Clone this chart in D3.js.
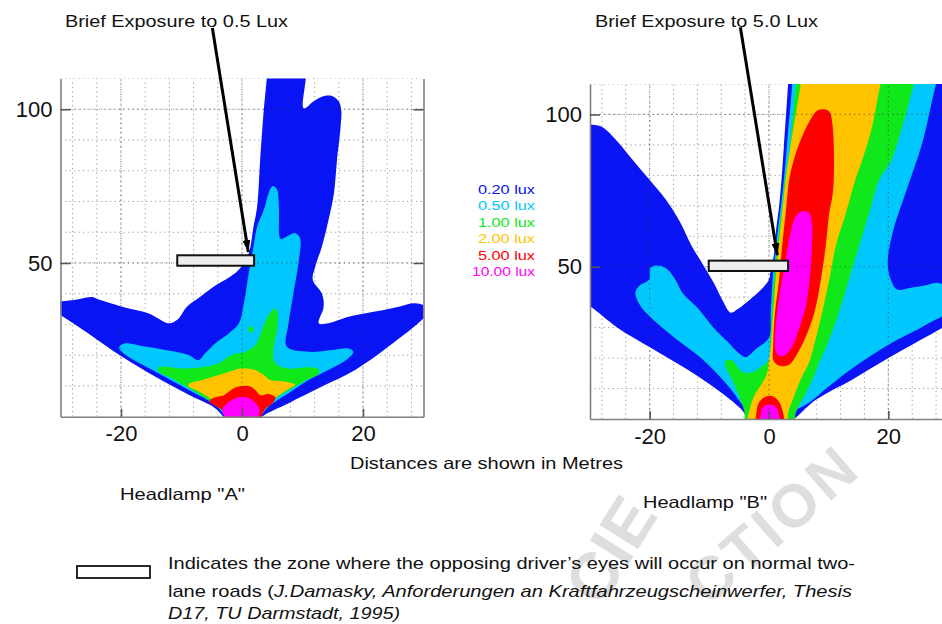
<!DOCTYPE html>
<html><head><meta charset="utf-8">
<script src="https://cdn.jsdelivr.net/npm/d3@7"></script>
<style>body{margin:0;background:#fff}svg{display:block}</style>
</head><body><svg id="c" width="942" height="624"></svg>
<script>
// ---------- data ----------
const luxLevels = ["0.20 lux","0.50 lux","1.00 lux","2.00 lux","5.00 lux","10.00 lux"];
const luxColors = ["#0a14f5","#00c8ff","#11e81a","#ffc300","#ff0000","#ff00ff"];
const xTickValues = [-20, 0, 20];
const yTickValues = [50, 100];
const titles = ["Brief Exposure to 0.5 Lux", "Brief Exposure to 5.0 Lux"];
const lampNames = ['Headlamp "A"', 'Headlamp "B"'];
const axisLabel = "Distances are shown in Metres";
const watermark = ["CIE", "CTION"];
const noteLines = [
  [["Indicates the zone where the opposing driver\u2019s eyes will occur on normal two-", false]],
  [["lane roads (", false], ["J.Damasky, Anforderungen an Kraftfahrzeugscheinwerfer, Thesis", true]],
  [["D17, TU Darmstadt, 1995)", true]]
];

// Headlamp A isolux regions (metres: [lateral, distance]); each level = list of rings
const lampA_020 = [[[-1.5,-3],[-4.4,2.7],[-8.8,7.1],[-14.3,13],[-19.8,19.5],[-25.4,27.1],[-30,33.1],[-32,35.5],[-32,37.6],[-30,37.5],[-27,38.2],[-24.8,38.9],[-23.8,38.2],[-19.8,35.8],[-15.4,33.6],[-12.1,30.4],[-10.7,31.5],[-9.1,35.8],[-6.9,39],[-4.7,42.3],[-1.9,45.6],[-0.3,48.3],[1.1,53.1],[1.9,61.8],[2.5,68.3],[3.0,83.5],[3.6,99.8],[4.1,110],[4.3,116],[10.2,116],[10.2,100.3],[11.8,102.5],[13.2,104.1],[14.9,104.3],[16,102.5],[16.4,99.8],[16.3,94.4],[15.7,83.5],[15.2,72.7],[14.3,64],[13.2,55.3],[12.1,48.8],[11.7,44.5],[13.2,40.1],[13.5,35.8],[12.7,30.4],[14.3,30.4],[17.6,32.5],[22,34.2],[25.9,35.8],[28.6,36.9],[30.6,35.6],[30.6,33.6],[24.2,22.8],[18.7,15.2],[13.2,9.8],[7.7,4.4],[3.3,0],[2,-3]]];
const lampA_050 = [[[-1.5,-2],[-4.4,3.8],[-8.8,8.7],[-14.3,14.6],[-19.3,20.2],[-20.3,22.5],[-19.5,23.8],[-16,22.8],[-12.7,21.7],[-8.8,20.1],[-7.2,18.4],[-6.1,20.6],[-4.4,23.9],[-2.2,27.1],[-0.5,30.4],[0.2,35.8],[0.6,40.1],[1.1,46.6],[1.9,55.3],[2.5,61.8],[3.6,67.2],[4.4,72.7],[5.1,75],[5.8,73.8],[6.1,68.3],[6.4,57.8],[7.4,58.6],[8.8,59.7],[9.6,58],[9.4,51],[8.5,40.1],[7.7,30.4],[7.4,22.8],[11,21.1],[14.9,21.7],[17.6,22.2],[18.4,21.1],[17.6,19],[13.2,14.1],[11,11.9],[7.7,7.6],[4.4,3.3],[2,-2]]];
const lampA_100 = [[[-13.8,16.1],[-9.9,15.7],[-6.6,16.1],[-3.9,17.4],[-1.7,20.1],[0.5,21.1],[2.2,23.3],[3.3,28.2],[4.4,33.1],[5.5,35.3],[5.9,33.6],[5.8,28.2],[5.2,21.7],[5.5,17.4],[7.7,15.7],[11,16.1],[12.7,15.4],[12.6,13.8],[11,12.3],[8.8,9.8],[6.6,7.3],[4.4,4.2],[2.8,1.3],[0,-1.5],[-2.8,1.2],[-5,4.6],[-7.7,8.0],[-11.6,12.5],[-13.8,14.8]],
                   [[1.0,28.6],[1.4,29.4],[1.9,28.6],[1.8,27.6],[1.3,27.4]]];
const lampA_200 = [[[-8.8,10.6],[-6.6,11.9],[-4.4,13.2],[-2.2,14.6],[-0.3,15.7],[0.8,15.7],[2.2,15.2],[3.6,13.6],[4.7,11.9],[7.2,11.4],[8.8,10.4],[8.0,9.4],[6.6,7.6],[4.4,4.6],[3.0,2.3],[2.2,-1],[-2.2,-1],[-3.3,2.7],[-5,5.6],[-7.2,8.3],[-8.8,9.8]]];
const lampA_500 = [[[-5.2,5.6],[-4.1,6.5],[-3.0,7.0],[-2.2,8.1],[-1.1,9.5],[1.1,10.0],[2.2,8.7],[3.0,7.0],[4.4,7.4],[5.5,6.3],[5.0,4.3],[3.9,2.7],[2.6,-1],[-2.3,-1],[-3.3,2.2],[-4.7,3.8],[-5.4,4.9]]];
const lampA_1000 = [[[-3.3,2.0],[-2.6,4.1],[-1.7,5.4],[-0.6,6.3],[0.8,6.3],[1.8,5.2],[2.5,3.8],[2.9,2.0],[2.4,-1],[-2.2,-1]]];

// Headlamp B isolux regions
const lampB_020 = [[[-2.3,-2],[-4.8,3.5],[-7.2,7.5],[-10,11.5],[-14.3,17],[-19.9,23.5],[-25.4,30],[-30,37],[-32,39],[-32,97],[-30,96.7],[-28.2,96.1],[-25.7,91.8],[-22.9,85.2],[-20.1,78.7],[-17.3,72.1],[-15,65],[-13,57],[-11,50.5],[-9.2,44.5],[-7.8,39],[-6.4,34.9],[-5.3,36],[-4.2,37.6],[-2.2,40.9],[-0.8,43.6],[0,45.8],[0.3,49.1],[0.8,53.5],[1.2,62.2],[1.7,69.9],[2.1,78.7],[2.5,89.6],[3.2,110],[3.4,116],[32,116],[32,33],[30,31],[25,25.5],[20,20],[14,13],[8,6.5],[2.5,-2]]];
const lampB_050 = [[[-2.8,-2],[-3.5,2],[-4.8,5.5],[-6.5,10],[-9,15.5],[-12,21],[-15.4,26],[-19.9,33.5],[-21.5,37],[-22.4,41.4],[-21.8,43.6],[-20.1,45.8],[-19.9,49.6],[-19,50.4],[-17.3,49.6],[-15.7,45.8],[-14.5,41.4],[-12,36.5],[-9.3,30],[-7,25.5],[-5,21.5],[-3.9,20.3],[-2,23.3],[-0.6,25.3],[0.1,27.2],[0.3,35],[0.6,45.8],[1.0,53.5],[1.5,62.2],[2.0,69.9],[2.5,78.7],[3.0,89.6],[3.9,110],[4.1,116],[29,116],[28,110],[25.7,90.7],[22.9,74.3],[20.7,61.1],[19.9,51.3],[20.4,45.8],[21.5,42.5],[23.8,43.1],[26.5,44],[28.2,44.7],[30,43.5],[32,42],[32,35],[28.9,33.5],[25,29.5],[20.1,24.5],[14.5,17.4],[10.1,10.8],[6.7,5.3],[3.5,1.5],[3,-2]]];
const lampB_100 = [[[-3.6,-2],[-4.2,3.1],[-5,7.5],[-6.2,13],[-7.3,17.4],[-7.3,19],[-6.2,19.2],[-4.5,15.5],[-2.8,15.3],[-1.1,17.4],[0,19.5],[0.2,25],[0.4,32],[0.8,45.8],[1.2,53.5],[1.7,62.2],[2.2,69.9],[2.65,78.7],[3.5,89.6],[4.5,110],[4.7,116],[25.3,116],[24.3,110],[22.5,97],[20.5,85],[18.5,78.7],[16.8,67.7],[15.1,56.8],[13.4,45.8],[11.7,34.9],[10.1,26.1],[8.4,18.5],[7.3,13],[5.9,7.5],[4.5,2.1],[4,-2]]];
const lampB_200 = [[[-3.4,-2],[-3.1,4.2],[-2.2,8.6],[-1.1,11.9],[-0.3,15.2],[0,19.5],[0.3,23.9],[0.7,34.9],[1.1,45.8],[1.6,56.8],[2.2,67.7],[2.8,78.7],[3.6,89.6],[5.3,110],[5.6,116],[19.6,116],[18.7,110],[17.3,96.1],[15.8,86],[14.5,78.7],[12.9,67.7],[11.2,56.8],[10.1,45.8],[8.9,34.9],[7.8,26.1],[6.7,18.5],[5.3,13],[4.2,7.5],[3.2,2.1],[2.9,-2]]];
const lampB_500 = [[[8.9,101.7],[10.1,101],[10.6,97.3],[10.9,85.2],[10.7,74.3],[10.1,67.7],[9.5,56.8],[8.7,45.8],[7.6,34.9],[6.2,27.2],[4.8,21.7],[3.4,17.9],[2,17.4],[0.8,19],[0.7,23.9],[1.0,34.9],[1.7,45.8],[2.2,56.8],[2.8,67.7],[3.4,78.7],[4.3,86],[5.6,93],[7.0,98.5],[7.9,101]],
                   [[-2.1,-2],[-2.1,2],[-1.7,5.3],[-0.6,7.3],[0.6,7.5],[1.6,5.9],[2.2,3.1],[2.4,-2]]];
const lampB_1000 = [[[5.6,68.3],[6.7,67.7],[7.2,64.4],[7.2,56.8],[6.8,45.8],[6.2,37.1],[5,29.4],[3.9,23.9],[2.5,20.7],[1.4,21.2],[1.0,23.9],[1.2,32.7],[2.0,43.6],[2.8,52.4],[3.6,61.2],[4.5,66.6]],
                    [[-1.5,-2],[-1.4,1.5],[-1.1,3.7],[0,4.8],[1.1,4],[1.6,2.1],[1.6,-2]]];

// eye zone rectangles [[x0,y0],[x1,y1]] and arrows [[start],[tip]] in metres
const eyeZoneA = [[-10.7,49.1],[2.0,52.5]];
const eyeZoneB = [[-10.1,48.6],[3.2,52.0]];
const arrowA = [[-4.9,126.4],[1.04,53.6]];
const arrowB = [[-4.8,128.6],[1.4,53.8]];

// ---------- drawing ----------
const svg = d3.select("#c");
const FONT = "'Liberation Sans', Arial, sans-serif";
const NARROW = "'Liberation Sans Narrow', 'Liberation Sans', Arial, sans-serif";
svg.append("rect").attr("width",942).attr("height",624).attr("fill","#fff");
const color = d3.scaleOrdinal(luxLevels, luxColors);

// watermark
const wm = svg.append("g").attr("fill","#dedede").attr("font-family",FONT).attr("font-weight","bold");
wm.append("text").attr("transform","translate(630,562) rotate(-58)").attr("text-anchor","middle").attr("font-size",66).text(watermark[0]);
wm.append("text").attr("transform","translate(786,540) rotate(-41)").attr("text-anchor","middle").attr("font-size",60).attr("letter-spacing",4).text(watermark[1]);

const defs = svg.append("defs");
defs.append("marker").attr("id","ah").attr("viewBox","0 0 12 8").attr("refX",12).attr("refY",4)
  .attr("markerWidth",12).attr("markerHeight",8).attr("markerUnits","userSpaceOnUse").attr("orient","auto")
  .append("path").attr("d","M0,0L12,4L0,8Z").attr("fill","#000");

const panels = [
  {id:"A", xr:[60.5,423.5], yr:[416.7,78.5], contours:[lampA_020,lampA_050,lampA_100,lampA_200,lampA_500,lampA_1000],
   eye:eyeZoneA, arrow:arrowA, title:titles[0], tx:65, tw:223, right:true},
  {id:"B", xr:[590,948], yr:[419,84], contours:[lampB_020,lampB_050,lampB_100,lampB_200,lampB_500,lampB_1000],
   eye:eyeZoneB, arrow:arrowB, title:titles[1], tx:595, tw:223, right:false}
];

panels.forEach(p => {
  const x = d3.scaleLinear([-30,30], p.xr);
  const y = d3.scaleLinear([0,110], p.yr);
  const cid = "clip"+p.id;
  defs.append("clipPath").attr("id",cid).append("rect")
    .attr("x",p.xr[0]).attr("y",p.yr[1]).attr("width",p.xr[1]-p.xr[0]).attr("height",p.yr[0]-p.yr[1]);
  const g = svg.append("g");
  const inner = g.append("g").attr("clip-path",`url(#${cid})`);
  // minor grid
  const mg = inner.append("g").attr("stroke","#a0a0a0").attr("stroke-width",1).attr("stroke-dasharray","1.3,3.2");
  d3.range(-28,29,4).forEach(v => mg.append("line").attr("x1",x(v)).attr("x2",x(v)).attr("y1",y(0)).attr("y2",y(110)));
  d3.range(10,111,10).forEach(v => mg.append("line").attr("x1",x(-30)).attr("x2",x(30)).attr("y1",y(v)).attr("y2",y(v)));
  // contour regions
  const line = d3.line().x(d=>x(d[0])).y(d=>y(d[1])).curve(d3.curveCatmullRomClosed.alpha(0.5));
  p.contours.forEach((rings,i) => rings.forEach(r =>
    inner.append("path").attr("d",line(r)).attr("fill",color(luxLevels[i]))));
  // major grid on top
  const Mg = inner.append("g").attr("stroke","#333").attr("stroke-width",1.2).attr("stroke-dasharray","1.3,3.5").attr("opacity",0.55);
  xTickValues.forEach(v => Mg.append("line").attr("x1",x(v)).attr("x2",x(v)).attr("y1",y(0)).attr("y2",y(110)));
  yTickValues.forEach(v => Mg.append("line").attr("x1",x(-30)).attr("x2",x(30)).attr("y1",y(v)).attr("y2",y(v)));
  // axes
  const fmt = d => String(d);
  const ax = d3.axisLeft(y).tickValues(yTickValues).tickFormat(fmt).tickSize(-10).tickSizeOuter(0).tickPadding(8);
  const bx = d3.axisBottom(x).tickValues(xTickValues).tickFormat(fmt).tickSize(-8).tickSizeOuter(0).tickPadding(9);
  const ga = g.append("g").attr("transform",`translate(${p.xr[0]},0)`).call(ax);
  const gb = g.append("g").attr("transform",`translate(0,${p.yr[0]})`).call(bx);
  const axes = [ga, gb];
  if (p.right) {
    const rx = d3.axisRight(y).tickValues(yTickValues).tickSize(-10).tickSizeOuter(0).tickFormat("");
    axes.push(g.append("g").attr("transform",`translate(${p.xr[1]},0)`).call(rx));
  }
  axes.forEach(a => {
    a.select(".domain").attr("stroke","#808080").attr("stroke-width",1.6);
    a.selectAll(".tick line").attr("stroke","#555").attr("stroke-width",1.6);
    a.selectAll(".tick text").attr("font-family",FONT).attr("font-size",22).attr("fill","#111");
  });
  // eye zone
  g.append("rect").attr("x",x(p.eye[0][0])).attr("y",y(p.eye[1][1]))
    .attr("width",x(p.eye[1][0])-x(p.eye[0][0])).attr("height",y(p.eye[0][1])-y(p.eye[1][1]))
    .attr("fill","#eeeeee").attr("stroke","#111").attr("stroke-width",2);
  // arrow
  g.append("line").attr("x1",x(p.arrow[0][0])).attr("y1",y(p.arrow[0][1]))
    .attr("x2",x(p.arrow[1][0])).attr("y2",y(p.arrow[1][1]))
    .attr("stroke","#000").attr("stroke-width",3).attr("marker-end","url(#ah)");
  // title
  svg.append("text").attr("x",p.tx).attr("y",27).attr("font-family",NARROW).attr("font-size",17).attr("fill","#111")
    .attr("textLength",p.tw).attr("lengthAdjust","spacingAndGlyphs").text(p.title);
});

// legend
const lg = svg.append("g").attr("font-family",FONT).attr("font-size",12.5).attr("text-anchor","end");
luxLevels.forEach((l,i) => lg.append("text").attr("x",535).attr("y",193.5+i*16.5).attr("fill",color(l))
  .attr("textLength", l.length>8 ? 63 : 57).attr("lengthAdjust","spacingAndGlyphs").text(l));

// bottom labels
const lab = svg.append("g").attr("font-family",NARROW).attr("font-size",16.5).attr("fill","#111");
lab.append("text").attr("x",350).attr("y",469).attr("textLength",273).attr("lengthAdjust","spacingAndGlyphs").text(axisLabel);
lab.append("text").attr("x",120).attr("y",500).attr("textLength",125).attr("lengthAdjust","spacingAndGlyphs").text(lampNames[0]);
lab.append("text").attr("x",643).attr("y",508).attr("textLength",124).attr("lengthAdjust","spacingAndGlyphs").text(lampNames[1]);

// footnote
svg.append("rect").attr("x",77).attr("y",566).attr("width",73).attr("height",12)
  .attr("fill","#fff").attr("stroke","#111").attr("stroke-width",1.8);
const noteY = [569, 597, 619];
const noteW = [687, 684, 232];
noteLines.forEach((ln,i) => {
  const t = lab.append("text").attr("x",168).attr("y",noteY[i]).attr("font-size",17)
    .attr("textLength",noteW[i]).attr("lengthAdjust","spacingAndGlyphs");
  ln.forEach(([s,it]) => t.append("tspan").attr("font-style", it ? "italic" : "normal").text(s));
});
</script>
</body></html>
